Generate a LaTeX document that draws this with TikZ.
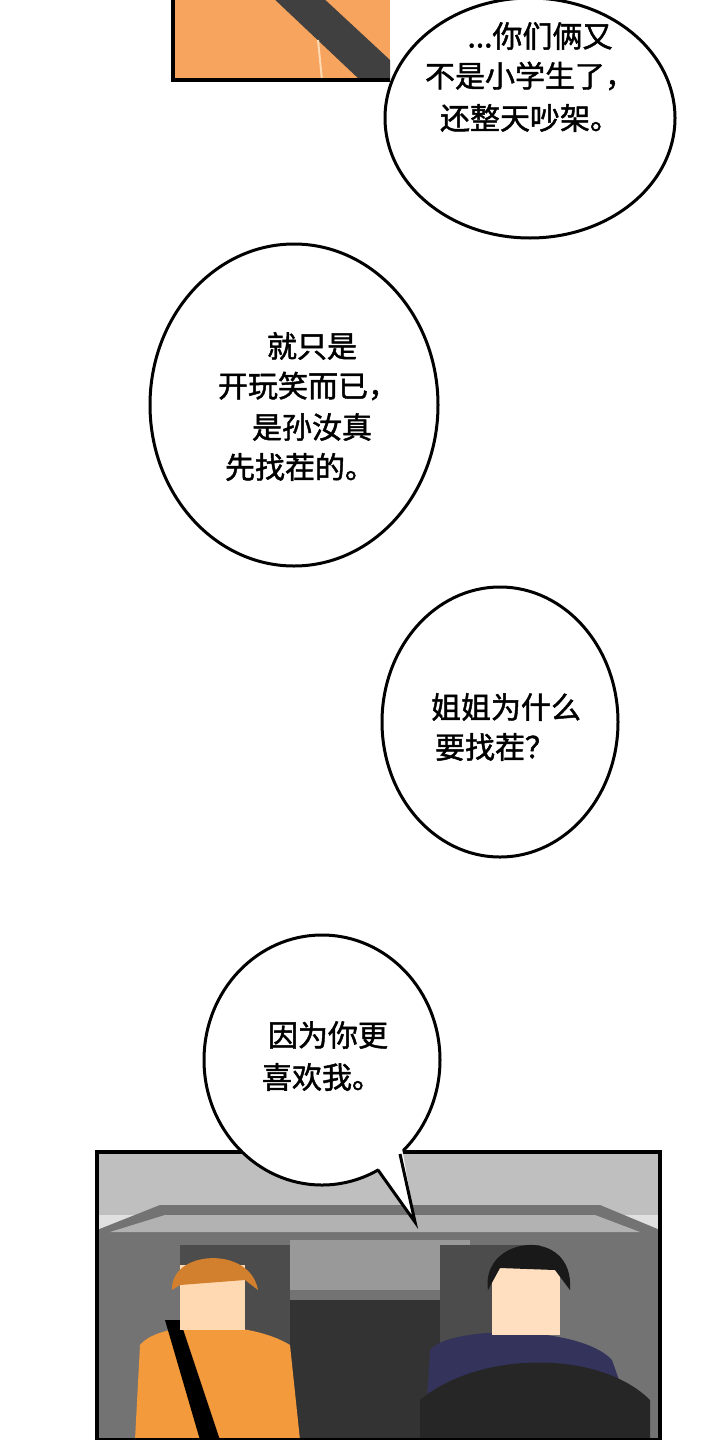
\documentclass[tikz,border=0pt]{standalone}
\usepackage{fontspec}
\usetikzlibrary{shapes.geometric}
\newfontfamily\cjk[FakeBold=1.5]{Noto Sans CJK SC}
\definecolor{skinor}{HTML}{F6A45E}
\definecolor{hoodie}{HTML}{F39A3C}
\begin{document}
\begin{tikzpicture}[x=0.5pt,y=-0.5pt,
 bubble/.style={draw=black,line width=1.5pt,fill=white,inner sep=0pt},
 txt/.style={font=\cjk\fontsize{15}{15}\selectfont,anchor=center,inner sep=0pt},
 panel/.style={draw=black,line width=1.8pt}]
\useasboundingbox (0,0) rectangle (720,1440);
\fill[white] (0,0) rectangle (720,1440);
% top panel
\fill[skinor] (173,-5) rectangle (390,80);
\fill[black!75] (270,-5) -- (320,-5) -- (390,60) -- (390,80) -- (360,80) -- cycle;
\draw[white!70!orange,line width=1pt] (318,40) -- (322,80);
\draw[panel] (173,-5) -- (173,80) -- (390,80);
% bubble 1
\node[bubble,ellipse,minimum width=145pt,minimum height=120pt] (b1) at (530,118) {};
\node[txt] (t1a) at (540,36) {...你们俩又};
\node[txt] (t1b) at (530,76) {不是小学生了，};
\node[txt] (t1c) at (530,118) {还整天吵架。};
% bubble 2
\node[bubble,ellipse,minimum width=144pt,minimum height=161pt] (b2) at (294,405) {};
\node[txt] (t2a) at (312,346) {就只是};
\node[txt] (t2b) at (308,386) {开玩笑而已，};
\node[txt] (t2c) at (312,427) {是孙汝真};
\node[txt] (t2d) at (300,467) {先找茬的。};
% bubble 3
\node[bubble,ellipse,minimum width=118pt,minimum height=135pt] (b3) at (500,722) {};
\node[txt] (t3a) at (506,707) {姐姐为什么};
\node[txt] (t3b) at (495,747) {要找茬？};
% bottom panel
\fill[black!12] (97,1152) rectangle (660,1440);
\fill[black!25] (97,1152) rectangle (660,1215);
\fill[black!55] (97,1230) -- (160,1205) -- (600,1205) -- (660,1230) -- (660,1440) -- (97,1440) -- cycle;
\fill[black!30] (110,1232) -- (165,1215) -- (595,1215) -- (640,1232) -- cycle;
\fill[black!40] (290,1240) rectangle (470,1290);
\fill[black!70] (180,1245) rectangle (290,1440);
\fill[black!70] (440,1245) rectangle (540,1440);
\fill[black!80] (290,1300) rectangle (440,1440);
% left person
\fill[hoodie] (140,1345) .. controls (160,1320) and (250,1320) .. (290,1345) -- (300,1440) -- (135,1440) -- cycle;
\fill[black] (165,1320) -- (180,1320) -- (220,1440) -- (200,1440) -- cycle;
\fill[orange!30!white] (180,1265) rectangle (245,1330);
\fill[brown!70!orange] (172,1290) .. controls (170,1250) and (250,1245) .. (258,1290) -- (245,1280) -- (180,1285) -- cycle;
% right person
\fill[blue!20!black!80] (430,1350) .. controls (450,1325) and (580,1325) .. (612,1360) -- (640,1440) -- (425,1440) -- cycle;
\fill[orange!25!white] (492,1265) rectangle (560,1335);
\fill[black!90] (488,1290) .. controls (480,1235) and (575,1225) .. (570,1290) -- (555,1270) -- (500,1268) -- cycle;
\fill[black!85] (420,1400) .. controls (480,1350) and (600,1350) .. (650,1400) -- (650,1440) -- (420,1440) -- cycle;
\draw[panel] (97,1152) rectangle (660,1440);
% bubble 4
\node[bubble,ellipse,minimum width=118pt,minimum height=125pt] (b4) at (322,1060) {};
\coordinate (tip) at (415,1222);
\fill[white] (375,1164) -- (tip) -- (402,1148) -- (385,1140) -- cycle;
\draw[line width=1.5pt] (378,1170) -- (tip) -- (400,1154);
\node[txt] (t4a) at (328,1035) {因为你更};
\node[txt] (t4b) at (322,1077) {喜欢我。};
\end{tikzpicture}
\end{document}
